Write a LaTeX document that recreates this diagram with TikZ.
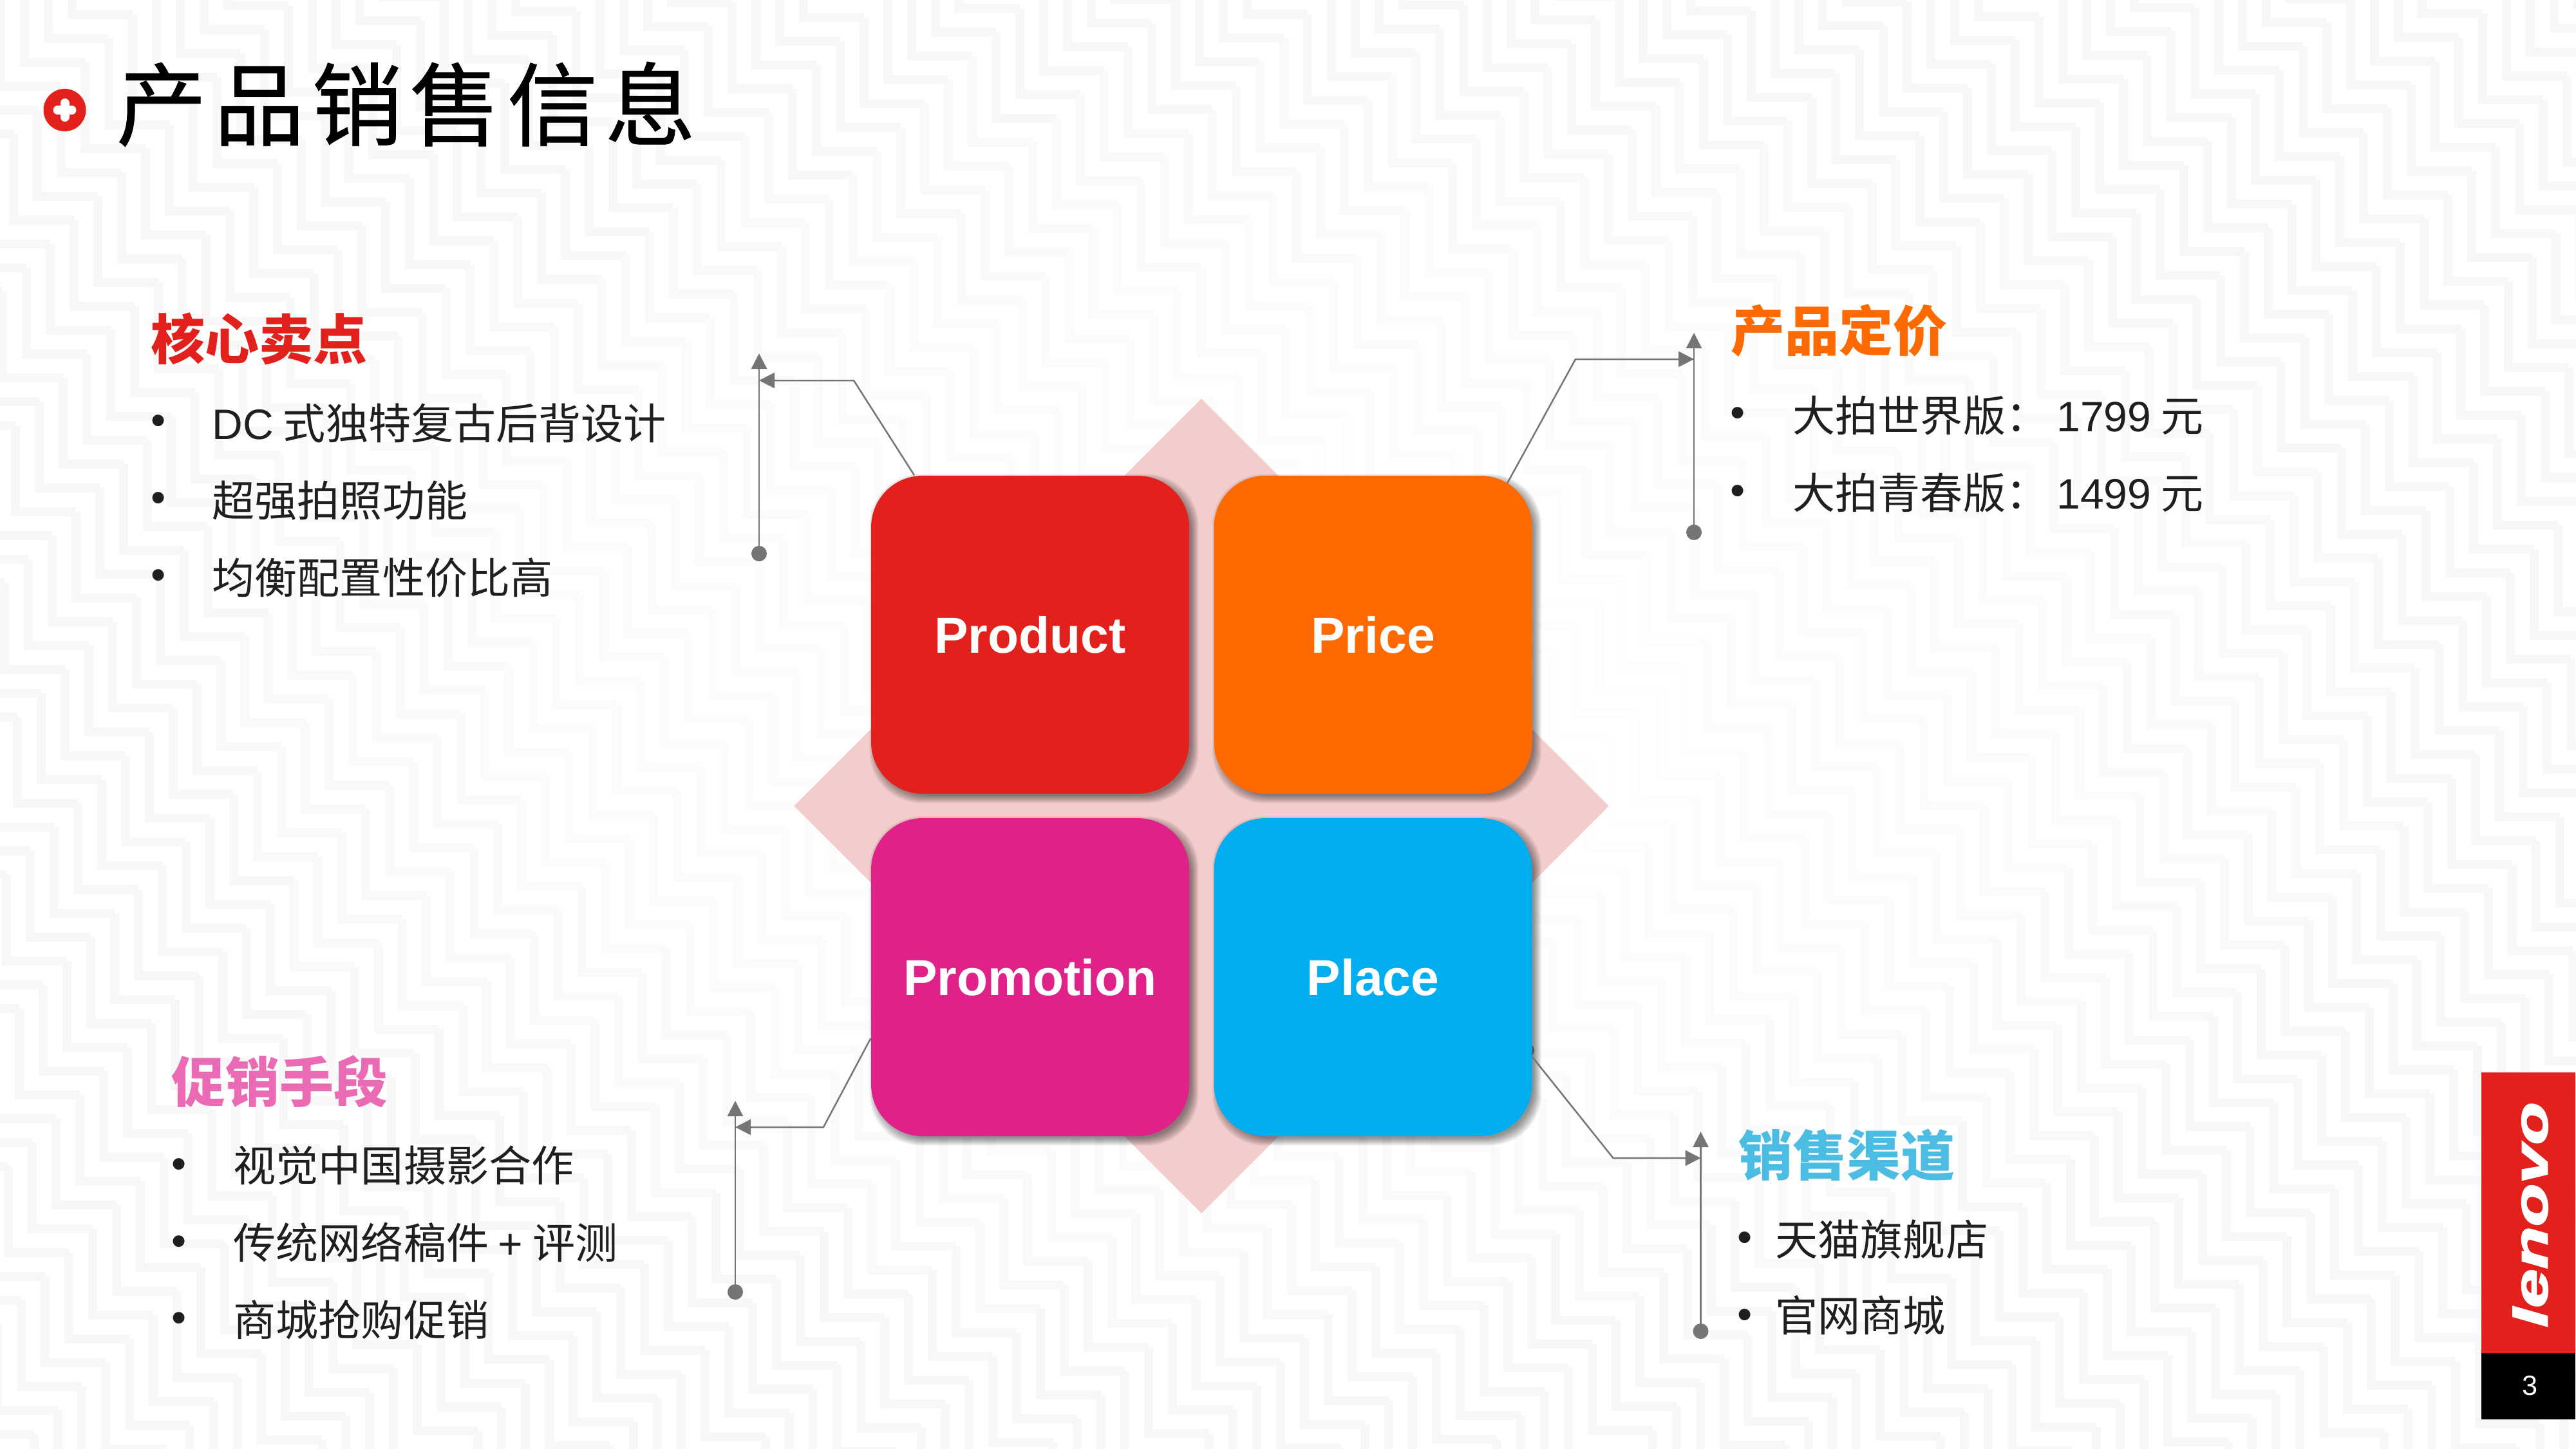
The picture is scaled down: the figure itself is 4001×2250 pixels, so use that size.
\documentclass[tikz,border=0pt]{standalone}
\usepackage{fontspec}
\setmainfont{Liberation Sans}
\newfontfamily\cjk{Noto Sans CJK SC}
\newfontfamily\cjktitle[LetterSpace=8,FakeBold=0.7]{Noto Sans CJK SC}
\usetikzlibrary{arrows.meta,calc,shapes.geometric}
\pgfdeclarelayer{under}
\pgfsetlayers{under,main}
\definecolor{lenred}{HTML}{E2211C}
\definecolor{priceorange}{HTML}{FF6A00}
\definecolor{promopink}{HTML}{E0218A}
\definecolor{placeblue}{HTML}{00AEEF}
\definecolor{connectgray}{HTML}{757575}
\definecolor{backpink}{HTML}{F3CCCC}
\definecolor{headpink}{HTML}{EA6BB3}
\definecolor{headcyan}{HTML}{4BBDE2}
\newcommand{\softshadow}[1]{
    \foreach \g in {-4,-3,...,8}
        \fill[black,opacity=0.04,rounded corners=8mm] ($(#1.south west)+(6-\g,6+\g)$) rectangle ($(#1.north east)+(6+\g,6-\g)$);
}

\begin{document}
\begin{tikzpicture}[x=0.1mm,y=-0.1mm,
    bigbox/.style={rectangle,rounded corners=8mm,minimum size=49.4mm,inner sep=0pt,text=white,font=\bfseries\fontsize{22.4}{26}\selectfont},
    heading/.style={anchor=west,inner sep=0pt,text height=7.4mm,text depth=1mm,font=\cjk\bfseries\fontsize{23.9}{28}\selectfont},
    itemtext/.style={anchor=west,inner sep=0pt,text height=5.8mm,text depth=0.8mm,text=black!88,font=\cjk\fontsize{18.8}{22}\selectfont},
    dotmark/.style={inner sep=0pt,text=black!88,font=\fontsize{18.8}{22}\selectfont},
    connect/.style={connectgray,line width=0.25mm,-{Triangle[length=2.4mm,width=2.4mm]}},
    stem/.style={connectgray,line width=0.25mm,{Circle[length=2.4mm]}-{Triangle[length=2.4mm,width=2.4mm]}}]
    \useasboundingbox (0,0) rectangle (4001,2250);

    \node[bigbox,fill=lenred] (product) at (1600,986) {Product};
    \node[bigbox,fill=priceorange] (price) at (2132.5,986) {Price};
    \node[bigbox,fill=promopink] (promotion) at (1600,1518) {Promotion};
    \node[bigbox,fill=placeblue] (place) at (2132.5,1518) {Place};

    \begin{pgfonlayer}{under}
    \fill[white] (0,0) rectangle (4001,2250);
    % zigzag wallpaper
    \begin{scope}
    \clip (0,0) rectangle (4001,2250);
    \foreach \i in {-30,...,60}{
        \pgfmathsetmacro\xs{2931-37*\i}
        \pgfmathsetmacro\ys{1080+37*\i}
        \pgfmathtruncatemacro\ka{(-134-\ys)/134-1}
        \pgfmathtruncatemacro\kb{(2384-\ys)/134+1}
        \foreach \k in {\ka,...,\kb}{
            \pgfmathsetmacro\cx{\xs+94*\k}
            \pgfmathsetmacro\cy{\ys+134*\k}
            \pgfmathsetmacro\tint{0.7+2.6*min(1,((\cx-2000)/2000)^2+((\cy-1125)/1125)^2)}
            \draw[black!\tint!white,line width=1.4mm,line cap=square] (\cx,\cy-134) -- (\cx,\cy) -- (\cx+94,\cy);
        }
    }
    \end{scope}

    \node[diamond,aspect=1,minimum size=126.6mm,inner sep=0pt,fill=backpink] (backing) at (1866,1252) {};

    \softshadow{product}
    \softshadow{price}
    \softshadow{promotion}
    \softshadow{place}

    \coordinate (prodbot) at (1179,872);
    \coordinate (prodtop) at (1179,549);
    \coordinate (prodbend) at (1326,591);
    \coordinate (prodhit) at (1179,591);
    \draw[stem] (prodbot) -- (prodtop);
    \draw[connect] (product.126.4) -- (prodbend) -- (prodhit);

    \coordinate (pricebot) at (2631,839);
    \coordinate (pricetop) at (2631,517);
    \coordinate (pricebend) at (2447,558);
    \coordinate (pricehit) at (2631,558);
    \draw[stem] (pricebot) -- (pricetop);
    \draw[connect,shorten <=-6mm] (price.49.1) -- (pricebend) -- (pricehit);

    \coordinate (promobot) at (1142,2019);
    \coordinate (promotop) at (1142,1710);
    \coordinate (promobend) at (1279,1751);
    \coordinate (promohit) at (1142,1751);
    \draw[stem] (promobot) -- (promotop);
    \draw[connect] (promotion.201.4) -- (promobend) -- (promohit);

    \coordinate (placebot) at (2641.5,2080);
    \coordinate (placetop) at (2641.5,1758);
    \coordinate (placebend) at (2505.5,1799);
    \coordinate (placehit) at (2641.5,1799);
    \draw[stem] (placebot) -- (placetop);
    \node[circle,fill=connectgray!70!black,minimum size=2.2mm,inner sep=0pt] (placedot) at (2372,1632) {};
    \draw[connect] (placedot) -- (placebend) -- (placehit);
    \end{pgfonlayer}

    % page title
    \node[circle,fill=lenred,minimum size=6.6mm,inner sep=0pt] (titleicon) at (100.5,171) {};
    \draw[white,line width=1.4mm,line cap=round] (89.5,171) -- (111.5,171);
    \draw[white,line width=1.4mm,line cap=round] (100.5,160) -- (100.5,182);
    \node[anchor=west,inner sep=0pt,text height=12.4mm,text depth=1.7mm,font=\cjktitle\fontsize{40}{46}\selectfont] (pagetitle) at (180,162) {产品销售信息};

    % top left
    \node[heading,text=lenred] (headsell) at (234,526) {核心卖点};
    \node[dotmark] (sella) at (246,660) {•};
    \node[dotmark] (sellb) at (246,780) {•};
    \node[dotmark] (sellc) at (246,900) {•};
    \node[itemtext] (selltexta) at (329,657) {{\rmfamily DC} 式独特复古后背设计};
    \node[itemtext] (selltextb) at (329,777) {超强拍照功能};
    \node[itemtext] (selltextc) at (329,897) {均衡配置性价比高};

    % top right
    \node[heading,text=priceorange] (headprice) at (2688,513) {产品定价};
    \node[dotmark] (pricea) at (2699,648) {•};
    \node[dotmark] (priceb) at (2699,769) {•};
    \node[itemtext] (pricetexta) at (2784,645) {大拍世界版：\hspace{0.2em}{\rmfamily 1799} 元};
    \node[itemtext] (pricetextb) at (2784,765) {大拍青春版：\hspace{0.2em}{\rmfamily 1499} 元};

    % bottom left
    \node[heading,text=headpink] (headpromo) at (266,1680) {促销手段};
    \node[dotmark] (promoa) at (278,1815) {•};
    \node[dotmark] (promob) at (278,1935) {•};
    \node[dotmark] (promoc) at (278,2054) {•};
    \node[itemtext] (promotexta) at (362,1810) {视觉中国摄影合作};
    \node[itemtext] (promotextb) at (362,1930) {传统网络稿件 {\rmfamily +} 评测};
    \node[itemtext] (promotextc) at (362,2050) {商城抢购促销};

    % bottom right
    \node[heading,text=headcyan] (headplace) at (2700,1794) {销售渠道};
    \node[dotmark] (placea) at (2710,1929) {•};
    \node[dotmark] (placeb) at (2710,2049) {•};
    \node[itemtext] (placetexta) at (2757,1925) {天猫旗舰店};
    \node[itemtext] (placetextb) at (2757,2043) {官网商城};

    % logo strip
    \fill[lenred] (3854,1666) rectangle (4000,2102);
    \fill[black] (3854,2102) rectangle (4000,2205);
    \node[rotate=90,inner sep=0pt,text=white,font=\bfseries\itshape\fontsize{21}{24}\selectfont] (logotext) at (3930,1887) {\scalebox{1.47}[1]{\addfontfeature{FakeBold=2.5}lenovo}};
    \node[inner sep=0pt,text=white,font=\fontsize{12.3}{14}\selectfont] (pagenum) at (3929,2153) {3};
\end{tikzpicture}
\end{document}
